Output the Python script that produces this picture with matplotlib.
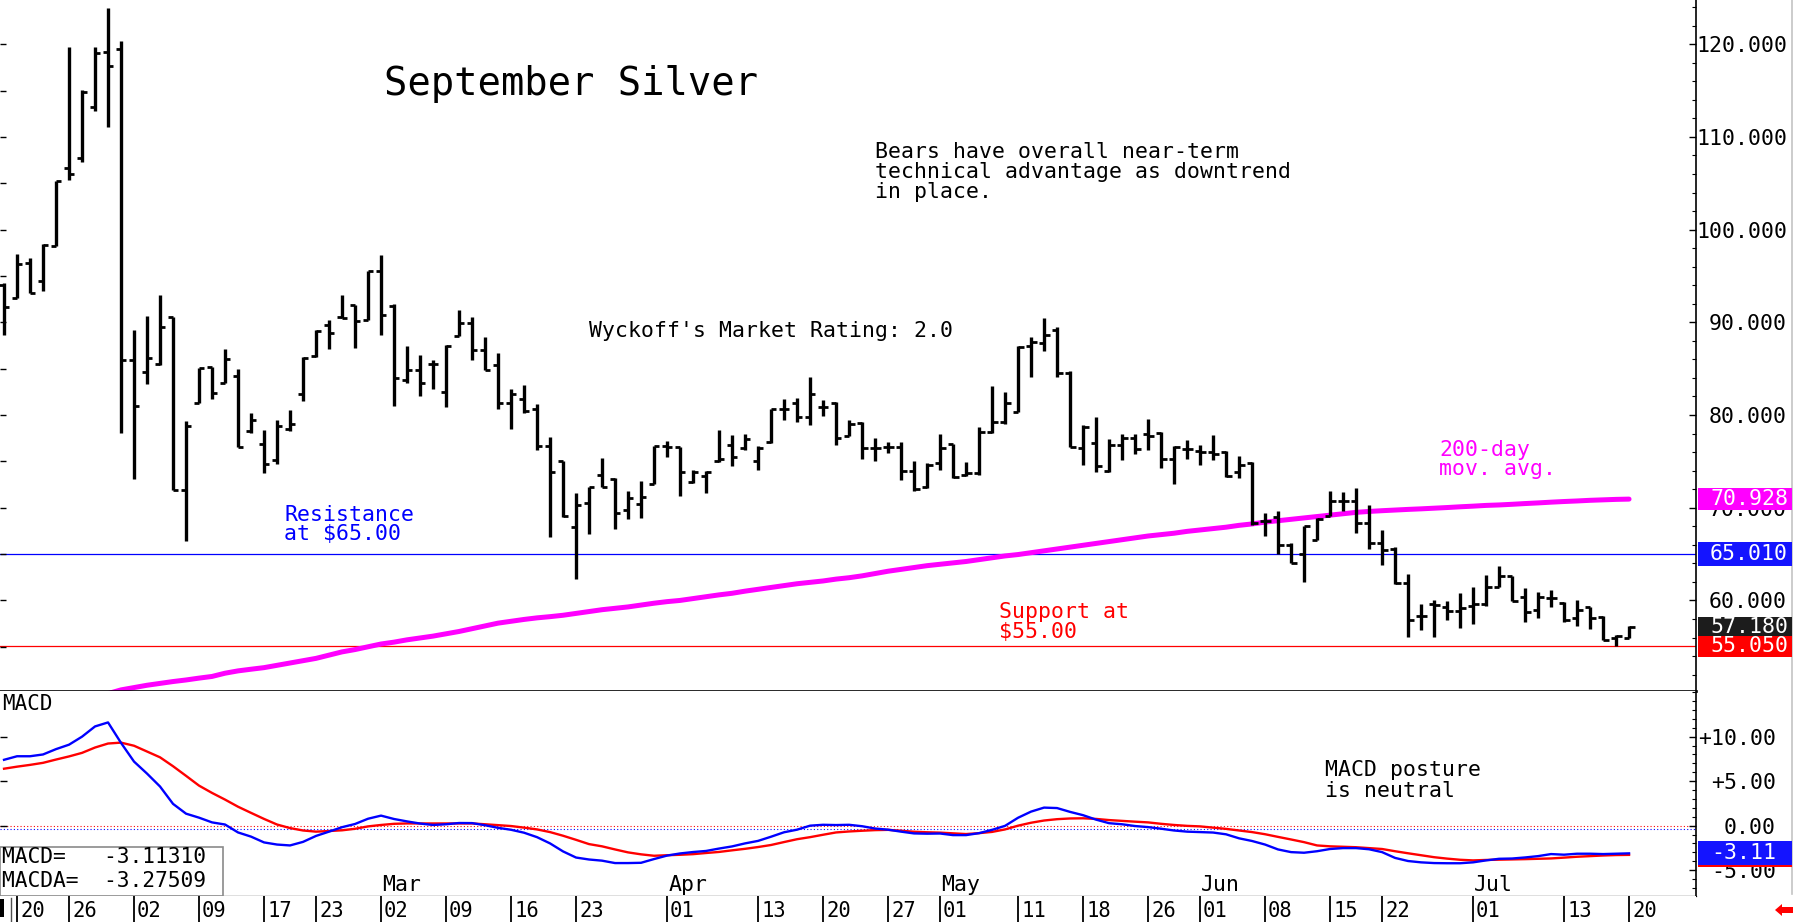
import numpy as np
import matplotlib
matplotlib.use("Agg")
import matplotlib.pyplot as plt
from matplotlib.collections import LineCollection
from matplotlib.patches import Rectangle, Polygon
from matplotlib.lines import Line2D
from matplotlib.transforms import blended_transform_factory as blend
from matplotlib.ticker import FixedLocator, MultipleLocator

# ---------------- data (trading-day index: -1 = Jan 16, 0 = Jan 20 ... 124 = Jul 20) ----------------
first_index = -1
opens = [94.0, 92.6, 96.4, 94.5, 98.2, 106.7, 107.7, 113.2, 119.2, 119.5,
         85.9, 84.6, 85.5, 90.6, 71.9, 81.3, 85.2, 83.5, 84.2, 78.3,
         76.9, 75.2, 78.5, 82.3, 86.4, 89.7, 90.6, 91.9, 90.2, 95.5,
         91.8, 83.8, 84.9, 85.5, 82.5, 88.5, 89.9, 87.0, 85.4, 81.3,
         81.7, 80.6, 76.7, 75.0, 67.9, 70.5, 73.5, 73.1, 69.8, 70.4,
         72.6, 76.7, 76.6, 72.8, 73.4, 75.0, 76.8, 76.4, 75.0, 77.1,
         80.6, 81.3, 79.8, 80.9, 81.3, 77.7, 79.1, 76.4, 76.6, 76.6,
         74.0, 72.2, 74.8, 76.9, 73.5, 73.7, 78.2, 79.3, 80.3, 87.4,
         87.8, 89.2, 84.5, 76.4, 77.0, 74.0, 76.8, 77.5, 78.0, 78.1,
         75.3, 76.3, 76.1, 76.0, 76.0, 73.9, 74.8, 68.6, 69.0, 66.0,
         65.0, 66.5, 69.1, 70.7, 70.7, 68.4, 66.2, 65.5, 61.9, 58.3,
         59.6, 59.3, 58.9, 59.4, 59.6, 61.5, 62.6, 60.4, 59.0, 60.3,
         59.7, 58.1, 59.3, 58.2, 55.9, 55.9]
highs = [94.2, 97.4, 96.9, 98.5, 105.2, 119.7, 115.1, 119.7, 123.9, 120.3,
         89.2, 90.7, 93.0, 90.6, 79.4, 85.1, 85.2, 87.1, 85.0, 80.2,
         78.4, 79.5, 80.5, 86.3, 89.2, 90.2, 92.9, 91.9, 95.5, 97.3,
         92.0, 87.4, 86.5, 85.9, 87.5, 91.3, 90.6, 88.4, 86.7, 82.8,
         83.2, 81.2, 77.6, 75.0, 71.6, 72.2, 75.4, 73.2, 71.8, 72.9,
         76.7, 77.2, 76.6, 74.1, 74.0, 78.4, 77.8, 77.9, 76.7, 80.7,
         81.7, 81.8, 84.1, 81.6, 81.4, 79.5, 79.3, 77.5, 77.1, 77.1,
         75.0, 74.8, 78.0, 76.9, 74.9, 78.7, 83.1, 82.5, 87.4, 88.4,
         90.5, 89.5, 84.8, 78.9, 79.8, 77.4, 78.0, 78.0, 79.6, 78.2,
         76.7, 77.3, 76.8, 77.8, 76.1, 75.6, 74.9, 69.4, 69.6, 66.2,
         68.0, 68.9, 71.8, 71.7, 72.1, 70.3, 67.6, 65.8, 62.9, 59.6,
         60.0, 59.9, 60.8, 61.5, 62.7, 63.7, 62.6, 61.3, 60.9, 61.1,
         59.8, 60.1, 59.3, 58.3, 56.3, 57.2]
lows = [88.6, 92.6, 93.2, 93.4, 98.2, 105.4, 107.3, 112.8, 111.1, 78.1,
        73.1, 83.4, 85.4, 71.9, 66.4, 81.3, 81.7, 83.5, 76.5, 78.1,
        73.7, 74.7, 78.3, 81.5, 86.3, 87.1, 90.5, 87.2, 90.2, 88.6,
        81.0, 83.5, 82.0, 82.8, 80.9, 88.5, 85.9, 84.9, 80.6, 78.5,
        80.2, 76.2, 66.8, 69.0, 62.3, 67.2, 72.2, 67.7, 68.8, 68.9,
        72.6, 75.5, 71.3, 72.7, 71.6, 74.9, 74.5, 76.2, 74.1, 77.0,
        79.5, 79.3, 78.9, 79.9, 76.8, 77.7, 75.3, 75.0, 75.9, 73.0,
        71.8, 72.1, 74.1, 73.2, 73.4, 73.5, 78.1, 79.0, 80.3, 84.1,
        86.9, 84.1, 76.6, 74.6, 73.9, 73.9, 75.2, 75.8, 76.2, 74.3,
        72.6, 75.3, 74.6, 75.2, 73.3, 73.2, 68.1, 66.9, 65.0, 64.0,
        62.0, 66.5, 69.1, 69.6, 67.3, 65.6, 63.8, 61.8, 56.1, 56.8,
        56.1, 57.9, 57.0, 57.5, 59.4, 61.5, 59.9, 57.7, 58.1, 59.3,
        57.7, 57.2, 56.9, 55.7, 55.1, 55.9]
closes = [91.6, 96.3, 93.2, 98.3, 105.2, 106.0, 114.8, 119.1, 117.6, 85.9,
          81.0, 86.1, 89.5, 71.9, 78.8, 85.1, 82.4, 86.0, 76.6, 79.5,
          74.7, 78.8, 79.0, 86.1, 89.1, 88.9, 90.5, 90.1, 95.5, 90.8,
          84.0, 84.9, 83.5, 85.5, 87.4, 89.9, 87.0, 84.9, 81.3, 82.3,
          80.4, 76.7, 73.9, 69.1, 70.3, 72.2, 72.2, 69.4, 71.0, 71.2,
          76.7, 76.5, 73.9, 73.9, 73.9, 75.3, 75.5, 77.4, 76.4, 80.6,
          80.6, 79.8, 82.3, 80.9, 77.5, 79.0, 76.4, 76.4, 76.6, 74.0,
          72.0, 74.6, 76.4, 73.3, 73.8, 78.2, 79.3, 81.3, 87.3, 87.9,
          88.6, 84.5, 76.6, 78.7, 74.5, 76.8, 77.5, 76.3, 77.7, 75.3,
          76.6, 76.3, 76.0, 75.8, 73.4, 74.6, 68.3, 68.6, 66.0, 64.0,
          68.0, 68.8, 70.7, 70.7, 68.4, 66.2, 65.4, 61.9, 57.9, 58.3,
          59.5, 58.9, 59.2, 59.6, 61.5, 62.6, 59.9, 58.8, 60.4, 60.3,
          57.9, 59.0, 58.1, 55.7, 56.2, 57.18]

ma200_start = 7
ma200 = [49.95, 50.35, 50.6, 50.85, 51.05, 51.25, 51.42, 51.62, 51.8, 52.15,
         52.4, 52.58, 52.75, 53.0, 53.25, 53.5, 53.75, 54.1, 54.45, 54.7,
         55.0, 55.3, 55.5, 55.75, 55.95, 56.15, 56.4, 56.65, 56.95, 57.25,
         57.55, 57.75, 57.95, 58.12, 58.25, 58.4, 58.6, 58.8, 59.0, 59.15,
         59.3, 59.5, 59.7, 59.87, 60.0, 60.2, 60.4, 60.6, 60.77, 61.0,
         61.2, 61.4, 61.6, 61.8, 61.95, 62.1, 62.3, 62.45, 62.65, 62.9,
         63.15, 63.35, 63.55, 63.75, 63.9, 64.05, 64.2, 64.4, 64.6, 64.8,
         64.95, 65.15, 65.35, 65.55, 65.75, 65.95, 66.15, 66.35, 66.55, 66.75,
         66.95, 67.1, 67.25, 67.45, 67.6, 67.75, 67.9, 68.1, 68.25, 68.45,
         68.6, 68.75, 68.9, 69.05, 69.2, 69.35, 69.5, 69.6, 69.68, 69.75,
         69.82, 69.88, 69.95, 70.02, 70.1, 70.17, 70.25, 70.3, 70.37, 70.45,
         70.52, 70.6, 70.67, 70.73, 70.8, 70.85, 70.9, 70.93]

macd = [7.4, 7.8, 7.8, 8.0, 8.6, 9.1, 10.0, 11.15, 11.6, 9.3,
        7.2, 5.85, 4.4, 2.45, 1.35, 0.9, 0.37, 0.13, -0.76, -1.23,
        -1.88, -2.12, -2.22, -1.82, -1.15, -0.67, -0.17, 0.19, 0.78, 1.13,
        0.75, 0.48, 0.24, 0.08, 0.16, 0.3, 0.29, 0.05, -0.24, -0.46,
        -0.79, -1.29, -1.99, -2.89, -3.58, -3.8, -3.93, -4.2, -4.2, -4.17,
        -3.75, -3.36, -3.12, -2.96, -2.84, -2.57, -2.33, -1.99, -1.71, -1.24,
        -0.74, -0.45, 0.0, 0.1, 0.07, 0.1, -0.06, -0.32, -0.45, -0.67,
        -0.87, -0.9, -0.88, -1.06, -1.06, -0.84, -0.47, -0.02, 0.89, 1.58,
        2.03, 1.98, 1.55, 1.18, 0.68, 0.28, 0.16, -0.04, -0.16, -0.34,
        -0.54, -0.67, -0.72, -0.77, -0.97, -1.42, -1.72, -2.12, -2.67, -2.97,
        -3.04, -2.87, -2.62, -2.52, -2.52, -2.65, -2.97, -3.62, -3.97, -4.12,
        -4.2, -4.22, -4.22, -4.12, -3.9, -3.72, -3.69, -3.57, -3.42, -3.19,
        -3.26, -3.15, -3.15, -3.19, -3.15, -3.11]
macd_signal = [6.4, 6.63, 6.83, 7.06, 7.43, 7.78, 8.18, 8.78, 9.23, 9.33,
               8.98, 8.33, 7.68, 6.68, 5.6, 4.5, 3.68, 2.93, 2.13, 1.44,
               0.76, 0.13, -0.27, -0.54, -0.67, -0.6, -0.52, -0.35, -0.08, 0.08,
               0.21, 0.25, 0.25, 0.25, 0.25, 0.25, 0.25, 0.16, 0.06, -0.04,
               -0.22, -0.42, -0.72, -1.13, -1.59, -2.07, -2.32, -2.67, -3.0, -3.22,
               -3.38, -3.32, -3.27, -3.2, -3.07, -2.95, -2.77, -2.6, -2.4, -2.17,
               -1.84, -1.52, -1.29, -1.02, -0.76, -0.65, -0.57, -0.5, -0.47, -0.57,
               -0.68, -0.74, -0.78, -0.86, -0.94, -0.84, -0.7, -0.42, 0.0, 0.33,
               0.58, 0.73, 0.81, 0.83, 0.76, 0.63, 0.54, 0.45, 0.37, 0.21,
               0.08, -0.02, -0.08, -0.22, -0.36, -0.54, -0.72, -0.96, -1.26, -1.55,
               -1.85, -2.22, -2.32, -2.37, -2.42, -2.52, -2.62, -2.87, -3.1, -3.32,
               -3.54, -3.7, -3.83, -3.9, -3.85, -3.82, -3.79, -3.76, -3.72, -3.68,
               -3.59, -3.49, -3.42, -3.35, -3.3, -3.28]

tick_idx = [0, 4, 9, 14, 19, 23, 28, 33, 38, 43, 50, 57, 62, 67, 71, 77, 82, 87,
            91, 96, 101, 105, 112, 119, 124]
tick_labels = ["20", "26", "02", "09", "17", "23", "02", "09", "16", "23", "01", "13",
               "20", "27", "01", "11", "18", "26", "01", "08", "15", "22", "01", "13", "20"]
month_idx = [28, 50, 71, 91, 112]
month_labels = ["Mar", "Apr", "May", "Jun", "Jul"]

price_ticks = [60, 70, 80, 90, 100, 110, 120]
macd_ticks = [-5, 0, 5, 10]
macd_tick_labels = ["-5.00", "0.00", "+5.00", "+10.00"]

resistance = 65.01
support = 55.05
last_close = 57.18
last_ma = 70.928
macd_last = -3.11310
macda_last = -3.27509

# ---------------- styling / layout ----------------
MONO = "DejaVu Sans Mono"
plt.rcParams["font.family"] = [MONO, "DejaVu Sans"]
BLUE, RED, MAG = "#0000ff", "#ff0000", "#ff00ff"

W, H = 1794, 922
fig = plt.figure(figsize=(W / 100, H / 100), dpi=100, facecolor="white")


def frame(x0, y0, x1, y1):
    return [x0 / W, 1 - y1 / H, (x1 - x0) / W, (y1 - y0) / H]


def fx(px):
    return px / W


def fy(py):
    return 1 - py / H


ax = fig.add_axes(frame(0, 0, 1696, 691))
axm = fig.add_axes(frame(0, 691, 1696, 896))
axd = fig.add_axes(frame(0, 896, 1696, 922))

x = np.arange(len(opens)) + first_index
xlim = (-1.31, 129.15)
for a in (ax, axm, axd):
    a.set_xlim(*xlim)
    a.set_xticks([])
ax.set_ylim(50.23, 124.77)
axm.set_ylim(-7.9, 15.13)
axd.set_ylim(0, 1)

# spines
for a in (ax, axm):
    a.spines["top"].set_visible(False)
    a.spines["left"].set_visible(False)
    a.spines["right"].set_linewidth(1.2)
ax.spines["bottom"].set_linewidth(1.9)
axm.spines["bottom"].set_linewidth(0.9)
for s in axd.spines.values():
    s.set_visible(False)
axd.set_yticks([])

# price axis ticks: small left ticks every 5, right labelled axis
ax.yaxis.set_major_locator(FixedLocator(np.arange(55, 121, 5)))
ax.tick_params(axis="y", left=True, right=False, direction="in", length=4, width=1,
               labelleft=False)
axr = ax.twinx()
axr.set_ylim(ax.get_ylim())
for s in axr.spines.values():
    s.set_visible(False)
axr.set_yticks(price_ticks)
axr.set_yticklabels([f"{v:.3f}" for v in price_ticks], ha="right", fontsize=15.5)
axr.yaxis.set_minor_locator(MultipleLocator(2))
axr.tick_params(axis="y", which="major", direction="in", length=5, width=1, pad=65.5)
axr.tick_params(axis="y", which="minor", direction="in", length=3, width=0.8)

# MACD axis ticks
axm.yaxis.tick_right()
axm.set_yticks(macd_ticks)
axm.set_yticklabels(macd_tick_labels, ha="right", fontsize=15.5)
axm.yaxis.set_minor_locator(MultipleLocator(1))
axm.tick_params(axis="y", which="major", direction="in", length=5, width=1, pad=57.6,
                left=True, labelleft=False)
axm.tick_params(axis="y", which="minor", direction="in", length=3, width=0.8, left=False)

# ---------------- price bars ----------------
TL = 0.42
segs_v = [[(xi, lo), (xi, hi)] for xi, lo, hi in zip(x, lows, highs)]
segs_t = [[(xi - TL, o), (xi, o)] for xi, o in zip(x, opens)] + \
         [[(xi, c), (xi + TL, c)] for xi, c in zip(x, closes)]
ax.add_collection(LineCollection(segs_v, colors="black", linewidths=2.4,
                                 capstyle="butt", zorder=3))
ax.add_collection(LineCollection(segs_t, colors="black", linewidths=2.0,
                                 capstyle="butt", zorder=3))

xm = np.arange(len(ma200)) + ma200_start
ax.plot(xm, ma200, color=MAG, lw=3.6, solid_capstyle="round", zorder=2)
ax.axhline(resistance, color=BLUE, lw=0.9, zorder=1)
ax.axhline(support, color=RED, lw=0.9, zorder=1)

# ---------------- MACD ----------------
axm.axhline(0, color=RED, lw=0.8, ls=(0, (1, 2)), zorder=1)
axm.axhline(-0.4, color=BLUE, lw=0.8, ls=(0, (1, 2)), zorder=1)
axm.plot(x, macd_signal, color=RED, lw=1.7, zorder=3)
axm.plot(x, macd, color=BLUE, lw=1.7, zorder=4)

ax_frac = blend(axm.transData, axm.transAxes)
for i, lab in zip(month_idx, month_labels):
    axm.text(i + 0.1, 0.055, lab, transform=ax_frac, ha="left", va="center", fontsize=15.5)
axm.text(0.001, 0.937, "MACD", transform=axm.transAxes, ha="left", va="center", fontsize=15)
axm.add_patch(Rectangle((0, 0), 223 / 1696, 49 / 205, transform=axm.transAxes,
                        facecolor="white", edgecolor="#8a8a8a", lw=1.2, zorder=5))
axm.text(0.001, 0.19, f"MACD=   {macd_last:.5f}", transform=axm.transAxes,
         ha="left", va="center", fontsize=15.3, zorder=6)
axm.text(0.001, 0.073, f"MACDA=  {macda_last:.5f}", transform=axm.transAxes,
         ha="left", va="center", fontsize=15.3, zorder=6)

# ---------------- date strip ----------------
axd.vlines(tick_idx, 0, 1, colors="black", lw=1.3)
for i, lab in zip(tick_idx, tick_labels):
    axd.text(i + 0.23, 0.43, lab, ha="left", va="center", fontsize=14.8)

# ---------------- annotations ----------------
def ftext(px, py, s, **kw):
    kw.setdefault("fontsize", 15.5)
    kw.setdefault("va", "center")
    kw.setdefault("ha", "left")
    fig.text(fx(px), fy(py), s, **kw)


ftext(384, 84, "September Silver", fontsize=28)
ftext(875, 152, "Bears have overall near-term")
ftext(875, 172, "technical advantage as downtrend")
ftext(875, 192, "in place.")
ftext(589, 331, "Wyckoff's Market Rating: 2.0")
ftext(284, 515, "Resistance", color=BLUE)
ftext(284, 534, "at $65.00", color=BLUE)
ftext(999, 612, "Support at", color=RED)
ftext(999, 632, "$55.00", color=RED)
ftext(1439, 450, "200-day", color=MAG)
ftext(1439, 469, "mov. avg.", color=MAG)
ftext(1325, 770, "MACD posture")
ftext(1325, 791, "is neutral")


# value boxes on the right axis
def value_box(axis, value, height, color, text, x_right, z):
    tr = blend(fig.transFigure, axis.transData)
    fig.add_artist(Rectangle((fx(1698), value - height / 2), fx(1792) - fx(1698), height,
                             transform=tr, facecolor=color, edgecolor="none", zorder=z))
    fig.text(fx(x_right), value, text, transform=tr, ha="right", va="center",
             color="white", fontsize=15.5, zorder=z + 0.5)


value_box(ax, last_ma, 2.35, MAG, f"{last_ma:.3f}", 1788, 4)
value_box(ax, resistance, 2.55, "#1414ff", f"{resistance:.3f}", 1788, 4)
value_box(ax, support, 2.35, RED, f"{support:.3f}", 1788, 4)
value_box(ax, last_close, 2.1, "#1c1c1c", f"{last_close:.3f}", 1788, 5)
value_box(axm, macda_last, 2.7, RED, "", 1776, 4)
value_box(axm, macd_last, 2.7, "#1414ff", f"{macd_last:.2f}", 1776, 5)

# decorations
fig.add_artist(Line2D([fx(1792), fx(1792)], [fy(0), fy(894)], color="#c4c4c4", lw=1.2))
fig.add_artist(Rectangle((0, fy(917)), fx(4), (917 - 899) / H, transform=fig.transFigure,
                         facecolor="black", edgecolor="none"))
fig.add_artist(Line2D([fx(11), fx(11)], [fy(898), fy(922)], color="#505050", lw=1.0))
arrow = [(1775, 910), (1782, 904), (1782, 907), (1793, 907), (1793, 913), (1782, 913), (1782, 916)]
fig.add_artist(Polygon([(fx(a), fy(b)) for a, b in arrow], closed=True,
                       transform=fig.transFigure, facecolor=RED, edgecolor="none"))

fig.savefig("out.png", dpi=100, facecolor="white")
